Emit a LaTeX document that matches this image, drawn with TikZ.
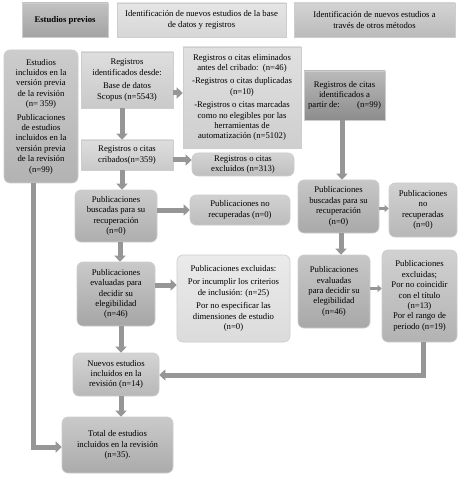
\documentclass[tikz,border=0pt]{standalone}
\usepackage{fontspec}
\setmainfont{Liberation Serif}
\usetikzlibrary{arrows.meta,calc}
\definecolor{arrowgray}{RGB}{150,150,150}
\definecolor{edgegray}{RGB}{205,205,205}
\newcommand{\mybox}[8]{%
  \node[#6, top color=#7, bottom color=#8,
        minimum width={(#4-#2)*1pt}, minimum height={(#5-#3)*1pt}]
        (#1) at ({(#2+#4)/2},{(#3+#5)/2}) }
\begin{document}
\begin{tikzpicture}[x=1pt,y=-1pt,
  bx/.style={draw=edgegray, line width=0.6pt, align=center, inner sep=0.5pt,
             font=\fontsize{8.7}{10.4}\selectfont},
  rbx/.style={bx, rounded corners=6pt},
  arr/.style={draw=arrowgray, line width=5pt, -{Triangle[width=11pt,length=6pt]}},
  sarr/.style={draw=arrowgray, line width=3pt, -{Triangle[width=7pt,length=4pt]}}]
\useasboundingbox (0,0) rectangle (461,478);
\fill[white] (0,0) rectangle (461,478);
% headers
\mybox{h1}{22}{3}{108}{37}{bx}{black!24}{black!36}{\textbf{Estudios previos}};
\mybox{h2}{117}{3}{286}{37}{bx}{black!10}{black!16}{Identificación de nuevos estudios de la base\\de datos y registros};
\mybox{h3}{294}{3}{455}{37}{bx}{black!17}{black!27}{Identificación de nuevos estudios a\\través de otros métodos};
% left column
\mybox{big}{4}{50}{78}{183}{rbx}{black!20}{black!30}{Estudios\\incluidos en la\\versión previa\\de la revisión\\(n= 359)\\[3pt]Publicaciones\\de estudios\\incluidos en la\\versión previa\\de la revisión\\(n=99)};
% database column
\mybox{regid}{81}{52}{173}{108}{bx}{black!13}{black!21}{Registros\\identificados desde:\\[3pt]Base de datos\\Scopus (n=5543)};
\mybox{crib}{81}{140}{173}{170}{bx}{black!13}{black!21}{Registros o citas\\cribados(n=359)};
\mybox{elim}{183}{47}{301}{148}{bx}{black!12}{black!19}{Registros o citas eliminados\\antes del cribado:\ \ (n=46)\\[3pt]-Registros o citas duplicadas\\(n=10)\\[3pt]-Registros o citas marcadas\\como no elegibles por las\\herramientas de\\automatización (n=5102)};
\mybox{excl}{192}{153}{294}{176}{rbx}{black!17}{black!25}{Registros o citas\\excluidos (n=313)};
\mybox{buscL}{75}{190}{157}{242}{rbx}{black!20}{black!32}{Publicaciones\\buscadas para su\\recuperación\\(n=0)};
\mybox{norecL}{190}{195}{290}{225}{rbx}{black!18}{black!26}{Publicaciones no\\recuperadas (n=0)};
\mybox{evalL}{77}{262}{155}{326}{rbx}{black!21}{black!35}{Publicaciones\\evaluadas para\\decidir su\\elegibilidad\\(n=46)};
\mybox{exclL}{177}{255}{290}{342}{rbx}{black!8}{black!14}{Publicaciones excluidas:\\[3pt]Por incumplir los criterios\\de inclusión: (n=25)\\[3pt]Por no especificar las\\dimensiones de estudio\\(n=0)};
\mybox{nuevos}{73}{353}{159}{396}{rbx}{black!17}{black!28}{Nuevos estudios\\incluidos en la\\revisión (n=14)};
\mybox{total}{62}{417}{173}{473}{rbx}{black!21}{black!33}{Total de estudios\\incluidos en la revisión\\(n=35).};
% other methods column
\mybox{citas}{304}{71}{385}{120}{bx}{black!27}{black!45}{Registros de citas\\identificados a\\partir de:\qquad(n=99)};
\mybox{buscR}{298}{180}{379}{233}{rbx}{black!22}{black!34}{Publicaciones\\buscadas para su\\recuperación\\(n=0)};
\mybox{norecR}{389}{183}{457}{237}{rbx}{black!18}{black!28}{Publicaciones\\no\\recuperadas\\(n=0)};
\mybox{evalR}{298}{255}{370}{328}{rbx}{black!22}{black!34}{Publicaciones\\evaluadas\\para decidir su\\elegibilidad\\(n=46)};
\mybox{exclR}{382}{250}{457}{342}{rbx}{black!18}{black!30}{Publicaciones\\excluidas;\\Por no coincidir\\con el título\\(n=13)\\Por el rango de\\periodo (n=19)};
% helper coordinates
\coordinate (colx) at (122,0);
\coordinate (colr) at (342,0);
\coordinate (rowe) at (0,93);
\coordinate (rowx) at (0,160);
\coordinate (bend1) at (423,375);
\coordinate (bend2) at (33,447);
% arrows
\draw[arr] (regid.south -| colx) -- (crib.north -| colx);
\draw[arr] (regid.east |- rowe) -- (elim.west |- rowe);
\draw[arr] (crib.east |- rowx) -- (excl.west |- rowx);
\draw[arr] (crib.south -| colx) -- (buscL.north -| colx);
\draw[arr] (buscL.east |- norecL.west) -- (norecL.west);
\draw[arr] ([xshift=-2pt]buscL.south -| colx) -- ([xshift=-2pt]evalL.north -| colx);
\draw[arr] ([yshift=9pt]evalL.east) -- ([yshift=9pt]evalL.east -| exclL.west);
\draw[arr] ([xshift=-1pt]evalL.south -| colx) -- ([xshift=-1pt]nuevos.north -| colx);
\draw[arr] ([xshift=-1pt]nuevos.south -| colx) -- ([xshift=-1pt]total.north -| colx);
\draw[arr] (citas.south -| colr) -- (buscR.north -| colr);
\draw[sarr] ([yshift=-2pt]buscR.east) -- ([yshift=-2pt]buscR.east -| norecR.west);
\draw[arr] ([xshift=-1pt]buscR.south -| colr) -- ([xshift=-1pt]evalR.north -| colr);
\draw[sarr] ([yshift=3pt]evalR.east) -- ([yshift=3pt]evalR.east -| exclR.west);
\draw[arr] (exclR.south -| bend1) -- (bend1) -- (bend1 -| nuevos.east);
\draw[arr] (big.south -| bend2) -- (bend2) -- (total.west |- bend2);
\end{tikzpicture}
\end{document}
